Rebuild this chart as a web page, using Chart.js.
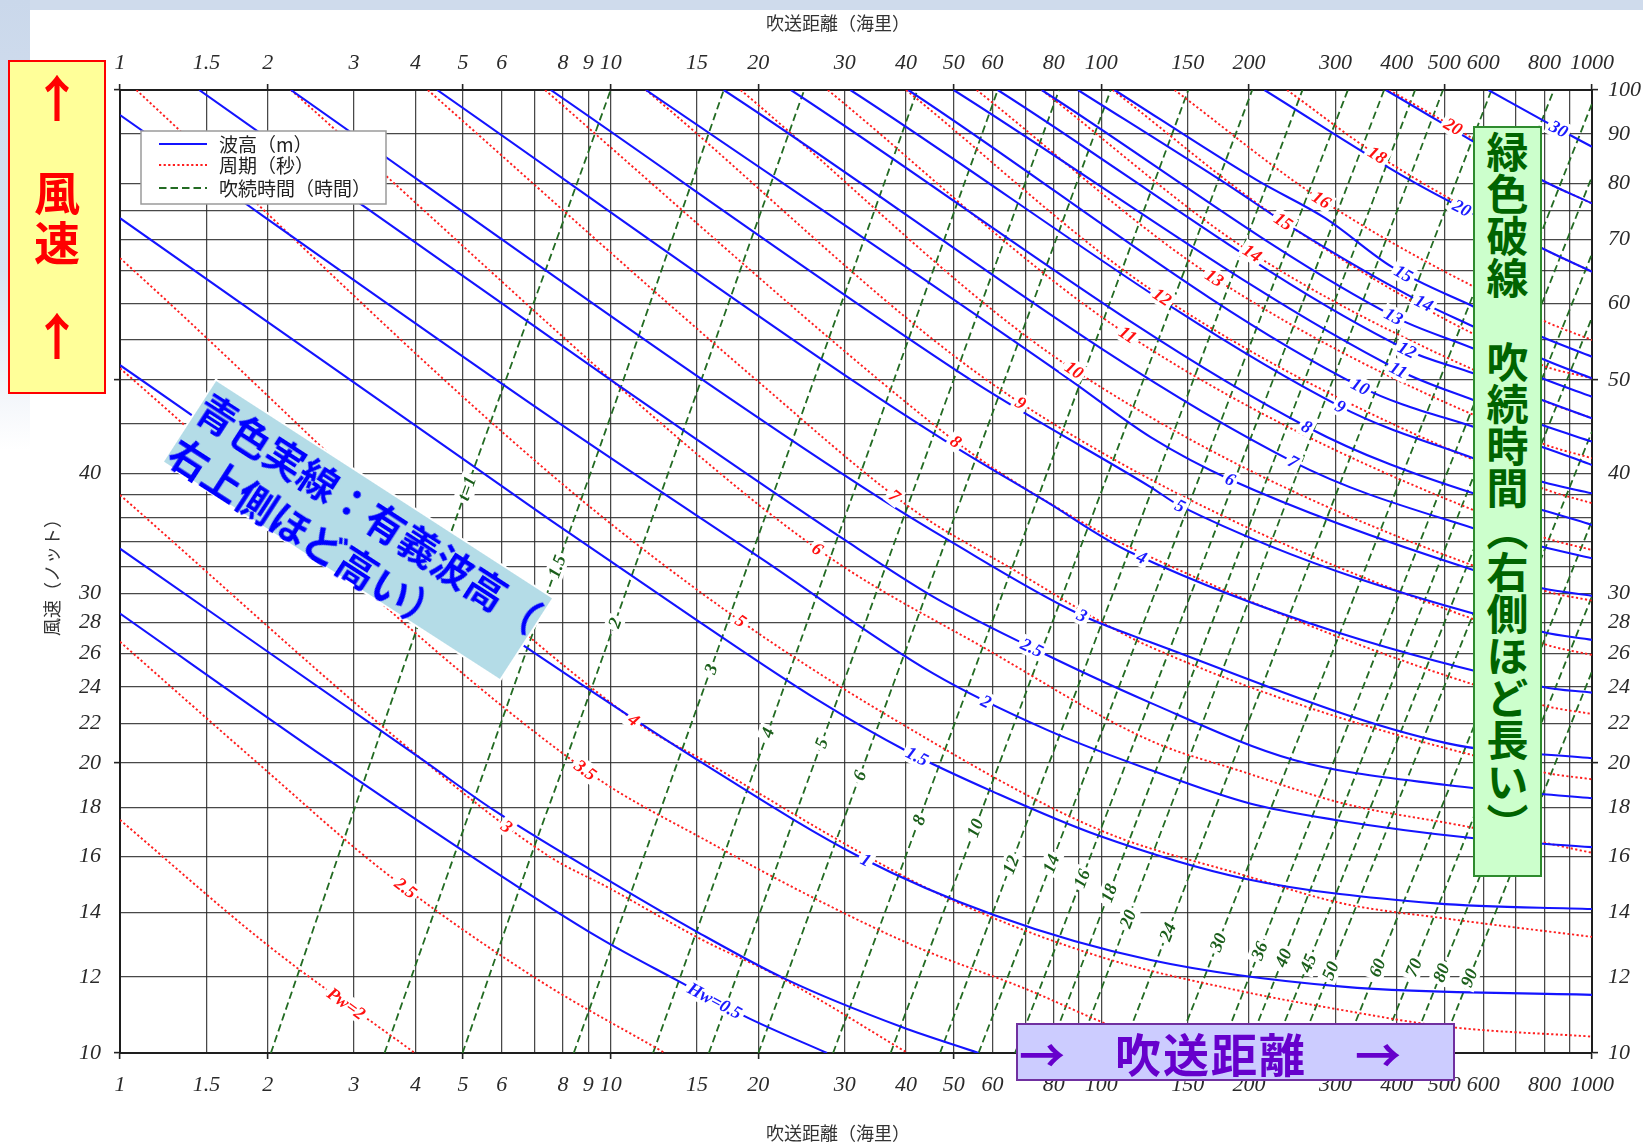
<!DOCTYPE html>
<html lang="ja">
<head>
<meta charset="utf-8">
<title>波浪推算図（有義波高・周期・吹続時間）</title>
<script src="https://cdn.jsdelivr.net/npm/chart.js@4.4.1/dist/chart.umd.min.js"></script>
<style>
  html, body { margin: 0; padding: 0; background: #ffffff; overflow: hidden; }
  #page { position: relative; width: 1643px; height: 1144px; overflow: hidden; background: #ffffff; }
  #bandTop { position: absolute; left: 0; top: 0; width: 1643px; height: 10px; background: #cfdbec; }
  #bandLeft { position: absolute; left: 0; top: 0; width: 30px; height: 450px;
    background: linear-gradient(to bottom, #cad8eb 0%, #d8e2f0 60%, #ffffff 100%); }
  #chart { position: absolute; left: 0; top: 0; }
  .note { position: absolute; box-sizing: border-box; font-family: "Noto Sans CJK JP", sans-serif; font-weight: 700; }
  #windNote { left: 8px; top: 60px; width: 98px; height: 334px; background: #ffff99; border: 2px solid #ff0000; color: #ff0000; }
  #windNote span { position: absolute; left: 0; width: 94px; text-align: center; line-height: 1; }
  #waveNote { left: 156px; top: 480px; width: 404px; height: 100px; background: #b4dce7; border: 2px solid #ffffff;
    transform: rotate(32.9deg); color: #0000ff; font-size: 40px; line-height: 52px; white-space: nowrap; }
  #durNote { left: 1473px; top: 126px; width: 69px; height: 751px; background: #ccffcc; border: 2px solid #2e8b2e; color: #006400; }
  #durNote div { position: absolute; left: 0; top: 3px; width: 65px; writing-mode: vertical-rl; font-size: 42px; line-height: 65px; white-space: nowrap; }
  #fetchNote { left: 1016px; top: 1023px; width: 439px; height: 58px; background: #ccccff; border: 2px solid #7030a0; color: #6600cc;
    font-size: 46px; line-height: 54px; letter-spacing: 2px; padding-left: 1px; white-space: nowrap; }
</style>
</head>
<body>
<div id="page">
  <div id="bandTop"></div>
  <div id="bandLeft"></div>
  <canvas id="chart" width="1643" height="1144" style="width:1643px;height:1144px"></canvas>
  <div class="note" id="windNote">
    <span style="top:8px;font-size:50px">↑</span>
    <span style="top:105px;font-size:46px">風</span>
    <span style="top:155px;font-size:46px">速</span>
    <span style="top:246px;font-size:50px">↑</span>
  </div>
  <div class="note" id="waveNote"><div>青色実線：有義波高（</div><div>右上側ほど高い）</div></div>
  <div class="note" id="durNote"><div>緑色破線　吹続時間（右側ほど長い）</div></div>
  <div class="note" id="fetchNote">→　吹送距離　→</div>
</div>
<script>
// Axis gridlines and tick labels
const X_GRID = [1,1.5,2,3,4,5,6,7,8,9,10,15,20,30,40,50,60,70,80,90,100,150,200,300,400,500,600,700,800,900,1000];
const X_LABELS = [1,1.5,2,3,4,5,6,8,9,10,15,20,30,40,50,60,80,100,150,200,300,400,500,600,800,1000];
const X_MARKS = [1,2,5,10,20,50,100,200,500,1000];
const Y_GRID = [10,12,14,16,18,20,22,24,26,28,30,32,34,36,38,40,45,50,55,60,65,70,75,80,90,100];
const Y_LABELS = [10,12,14,16,18,20,22,24,26,28,30,40,50,60,70,80,90,100];
const Y_MARKS = [10,20,50,100];

const FETCH_TITLE = '吹送距離（海里）';
const WIND_TITLE = '風速（ノット）';

// Significant wave height curves: [fetch (nautical miles), wind speed (knots)]
const hw0_5 = [[1,28.6],[2.66,20.15],[4.9,16.33],[9.5,13.16],[13.6,11.91],[19.1,10.87],[27.6,10]];
const hwB   = [[1,33.4],[4.14,20.15],[5.77,17.88],[9.5,15.3],[15,13.36],[22.9,11.91],[39.2,10.64],[56.2,10]];
const hw1   = [[1,51.8],[7.51,25.4],[15.4,20.0],[32.2,15.98],[60.4,13.91],[126,12.49],[310,11.72],[1000,11.49]];
const hw1_5 = [[1,73.6],[7.51,35.8],[14.9,28.2],[26.4,23.26],[40,20.6],[60.4,18.66],[98,16.84],[195,15.18],[481,14.3],[1000,14.11]];
const hw2   = [[1,94.2],[7.51,45.8],[20.5,32.5],[45.3,24.8],[77.7,21.64],[126,19.67],[200,18.17],[300,17.46],[575,16.71],[1000,16.36]];
const hw2_5 = [[1.45,100],[10,50],[30,34.1],[45.3,29.8],[68.5,26.7],[126,23.1],[247,20.15],[505,18.98],[1000,18.39]];
const hw3   = [[2.23,100],[15.4,50],[35.9,37.5],[48.7,34.1],[89.6,28.6],[126,26.7],[505,20.98],[1000,20.23]];
const hw4   = [[4.43,100],[31,50],[47.8,43.3],[76.4,37.5],[115.5,33.05],[791,24.01],[1000,23.67]];
const hw5   = [[7.55,100],[54.2,50],[69.7,46.2],[126,38.7],[144.7,37.0],[791,27.38],[1000,26.85]];
const hw6   = [[11.8,100],[86.3,50],[126,43.6],[183,39.4],[573,31.74],[791,30.38],[1000,29.83]];
const hw7   = [[17,100],[246,41.1],[573,35.07],[791,33.55],[1000,32.64]];
const hw8   = [[23.3,100],[262,44.7],[573,38.12],[791,36.64],[1000,35.34]];
const hw9   = [[30.8,100],[307,46.9],[573,41.46],[791,39.2],[1000,38.12]];
const hw10  = [[40.4,100],[337,49.2],[573,44.7],[791,42.6],[1000,40.79]];
const hw11  = [[50,100],[403,51.2],[573,47.65],[791,44.88],[1000,43.14]];
const hw12  = [[61.5,100],[420,53.7],[573,50.8],[791,47.65],[1000,45.61]];
const hw13  = [[75.6,100],[394,58.2],[573,53.9],[791,50.19],[1000,48.03]];
const hw14  = [[89.6,100],[175,80.6],[252,71.3],[433,60.8],[573,56.8],[791,52.6],[1000,50.19]];
const hw15  = [[106.4,100],[207.5,80.6],[286,73.6],[391,65.5],[573,59.6],[791,55.4],[1000,52.85]];
const hw20  = [[215,100],[426,80.6],[791,68.5],[1000,64.76]];
const hw25  = [[380,100],[791,80.6],[1000,76.25]];
const hw30  = [[615,100],[803,92.7],[1000,87.3]];

// Wave period curves
const pw2   = [[1,17.46],[2,12.94],[3.99,10]];
const pw2_5 = [[1,26.73],[1.877,20.15],[3.42,15.49],[7.03,11.96],[12.9,10]];
const pw3   = [[1,37.97],[4.14,20.15],[7.51,15.99],[9.84,14.87],[15.4,13.1],[22.1,11.99],[40.3,10]];
const pw3_5 = [[1,51.4],[8.88,19.67],[16,16.52],[26.4,14.42],[42.1,12.88],[70.9,11.63],[98,10.82],[144,10]];
const pw4   = [[1,66.9],[11.14,22.17],[15.4,20.15],[33.5,15.98],[49.5,14.42],[99.4,12.59],[195,11.58],[310,11.08],[505,10.65],[1000,10.4]];
const pw5   = [[1.08,100],[7.51,40],[17.5,28.6],[37.9,22.19],[99.4,17.04],[195,15.3],[310,14.3],[505,13.79],[1000,13.2]];
const pw6   = [[2.23,100],[18.4,38.4],[29.5,32.1],[57.3,26.4],[126,21.1],[195,19.58],[310,18.17],[557,17.18],[1000,16.14]];
const pw7   = [[4.24,100],[19.8,50],[41.4,36.64],[64.8,31.96],[126,26.4],[791,19.58],[1000,19.24]];
const pw8   = [[7.35,100],[35.2,50],[53.2,42.3],[70.9,38.4],[117.4,33.29],[791,22.98],[1000,22.49]];
const pw9   = [[11.8,100],[68.5,47.3],[791,26.63],[1000,25.9]];
const pw10  = [[18.4,100],[88,51.2],[791,30.26],[1000,29.49]];
const pw11  = [[27.7,100],[113.2,55.7],[791,34.37],[1000,33.29]];
const pw12  = [[40,100],[133,60.95],[791,38.6],[1000,37.23]];
const pw13  = [[55.7,100],[170,63.8],[791,42.96],[1000,41.46]];
const pw14  = [[75.6,100],[203,67.7],[791,47.65],[1000,45.61]];
const pw15  = [[105.5,100],[235,73],[791,51.8],[1000,50.19]];
const pw16  = [[141,100],[281,76.9],[791,57.7],[1000,55]];
const pw18  = [[239,100],[365,85.6],[791,68.5],[1000,64.76]];
const pw20  = [[386,100],[521,91.6],[791,80.6],[1000,76.25]];

// Wind duration lines (hours)
const t1   = [[2.03,10],[4.02,27.5],[10,100]];
const t1_5 = [[3.46,10],[4.9,16.52],[6.78,26.4],[9.46,42.3],[17,100]];
const t2   = [[4.99,10],[7.03,16.52],[8.1,20.15],[24.8,100]];
const t3   = [[8.41,10],[42.2,100]];
const t4   = [[12.2,10],[61.5,100]];
const t5   = [[15.85,10],[82,100]];
const t6   = [[20,10],[104.5,100]];
const t8   = [[28.4,10],[150.4,100]];
const t10  = [[37.2,10],[203,100]];
const t12  = [[46.9,10],[257,100]];
const t14  = [[56.2,10],[318,100]];
const t16  = [[66.7,10],[377,100]];
const t18  = [[77.9,10],[436,100]];
const t20  = [[89.2,10],[497,100]];
const t24  = [[109.7,10],[624,100]];
const t30  = [[141,10],[836,100]];
const t36  = [[174,10],[1000,96.8]];
const t40  = [[197,10],[1000,81.3]];
const t45  = [[223,10],[1000,67.6]];
const t50  = [[251,10],[1000,58.05]];
const t60  = [[311,10],[1000,44.2]];
const t70  = [[369,10],[1000,35.7]];
const t80  = [[424,10],[1000,29.8]];
const t90  = [[488,10],[1000,24.9]];

// [curve, inline tag, fetch where the tag sits]
const waveHeightSeries = [
  [hw0_5,'Hw=0.5',16.3],[hwB,'',null],[hw1,'1',33.1],[hw1_5,'1.5',42.1],[hw2,'2',58.2],[hw2_5,'2.5',72.2],
  [hw3,'3',91.3],[hw4,'4',120.8],[hw5,'5',144.7],[hw6,'6',183],[hw7,'7',246],[hw8,'8',262],[hw9,'9',307],
  [hw10,'10',337],[hw11,'11',403],[hw12,'12',420],[hw13,'13',394],[hw14,'14',454],[hw15,'15',413],
  [hw20,'20',543],[hw25,'',null],[hw30,'30',855]
];
const periodSeries = [
  [pw2,'Pw=2',2.89],[pw2_5,'2.5',3.82],[pw3,'3',6.14],[pw3_5,'3.5',8.88],[pw4,'4',11.14],[pw5,'5',18.4],
  [pw6,'6',26.4],[pw7,'7',37.9],[pw8,'8',50.5],[pw9,'9',68.5],[pw10,'10',88],[pw11,'11',113.2],[pw12,'12',133],
  [pw13,'13',170],[pw14,'14',203],[pw15,'15',235],[pw16,'16',281],[pw18,'18',365],[pw20,'20',521]
];
const durationSeries = [
  [t1,'t=1',5.09],[t1_5,'1.5',7.77],[t2,'2',10.2],[t3,'3',16],[t4,'4',20.9],[t5,'5',26.9],[t6,'6',32.2],
  [t8,'8',42.5],[t10,'10',55.3],[t12,'12',65.4],[t14,'14',79],[t16,'16',91.3],[t18,'18',103.7],[t20,'20',113.3],
  [t24,'24',136.5],[t30,'30',173],[t36,'36',210],[t40,'40',235],[t45,'45',264],[t50,'50',293],[t60,'60',365],
  [t70,'70',433],[t80,'80',493],[t90,'90',562]
];

// Line styles for the three families
const STYLE = {
  wave:   { name: '波高（m）',         line: '#1414ff', tag: '#1a1aff', width: 2.1, dash: [] },
  period: { name: '周期（秒）',         line: '#ff1e1e', tag: '#ff1010', width: 1.9, dash: [2.2, 2.4] },
  dur:    { name: '吹続時間（時間）',   line: '#236b23', tag: '#1b5e1b', width: 1.8, dash: [7.5, 4] }
};

function toDatasets(series, style) {
  return series.map(([pts, tag, at]) => ({
    data: pts.map(([x, y]) => ({ x, y })),
    borderColor: style.line,
    borderWidth: style.width,
    borderDash: style.dash,
    pointRadius: 0,
    fill: false,
    cubicInterpolationMode: 'monotone',
    tag, tagAt: at, tagColor: style.tag
  }));
}

const datasets = [
  ...toDatasets(waveHeightSeries, STYLE.wave),
  ...toDatasets(periodSeries, STYLE.period),
  ...toDatasets(durationSeries, STYLE.dur)
];

function makeScale(position, grid, labels, marks, size, pad, onArea) {
  const horizontal = position === 'top' || position === 'bottom';
  return {
    type: 'logarithmic',
    axis: horizontal ? 'x' : 'y',
    position,
    min: horizontal ? 1 : 10,
    max: horizontal ? 1000 : 100,
    afterBuildTicks: s => { s.ticks = grid.map(v => ({ value: v })); },
    afterFit: s => { if (horizontal) s.height = size; else s.width = size; },
    ticks: {
      autoSkip: false, maxRotation: 0, minRotation: 0, padding: pad,
      color: '#2a2a2a',
      font: { family: '"Liberation Serif", "Times New Roman", serif', style: 'italic', size: 22 },
      callback: v => labels.includes(v) ? String(v) : ''
    },
    grid: {
      display: true,
      drawOnChartArea: onArea,
      color: 'rgba(40,40,40,0.85)',
      lineWidth: 1.25,
      drawTicks: true,
      tickLength: 6,
      tickWidth: 1.6,
      tickColor: c => (c.tick && marks.includes(c.tick.value)) ? '#222' : 'rgba(0,0,0,0)'
    },
    border: { display: true, color: '#1e1e1e', width: 2 }
  };
}

function bez(p0, p1, p2, p3, t) {
  const u = 1 - t;
  return u * u * u * p0 + 3 * u * u * t * p1 + 3 * u * t * t * p2 + t * t * t * p3;
}

// Places a tag on the drawn curve at a given fetch, aligned with the curve
function placeOnCurve(chart, index, at) {
  const pts = chart.getDatasetMeta(index).data;
  const px = chart.scales.x.getPixelForValue(at);
  for (let k = 0; k < pts.length - 1; k++) {
    const a = pts[k], b = pts[k + 1];
    if (px < a.x - 0.01 || px > b.x + 0.01) continue;
    const ax = a.cp2x ?? a.x, ay = a.cp2y ?? a.y, bx = b.cp1x ?? b.x, by = b.cp1y ?? b.y;
    let lo = 0, hi = 1;
    for (let n = 0; n < 40; n++) {
      const m = (lo + hi) / 2;
      if (bez(a.x, ax, bx, b.x, m) < px) lo = m; else hi = m;
    }
    const t = (lo + hi) / 2;
    const t1 = Math.max(0, t - 0.02), t2 = Math.min(1, t + 0.02);
    const dx = bez(a.x, ax, bx, b.x, t2) - bez(a.x, ax, bx, b.x, t1);
    const dy = bez(a.y, ay, by, b.y, t2) - bez(a.y, ay, by, b.y, t1);
    return { x: px, y: bez(a.y, ay, by, b.y, t), angle: Math.atan2(dy, dx) };
  }
  return null;
}

const curveTags = {
  id: 'curveTags',
  afterDatasetsDraw(chart) {
    const ctx = chart.ctx;
    ctx.save();
    ctx.font = 'italic bold 18px "Liberation Serif", serif';
    ctx.textAlign = 'center';
    ctx.textBaseline = 'middle';
    chart.data.datasets.forEach((ds, i) => {
      if (!ds.tag) return;
      const p = placeOnCurve(chart, i, ds.tagAt);
      if (!p) return;
      ctx.save();
      ctx.translate(p.x, p.y);
      ctx.rotate(p.angle);
      const w = ctx.measureText(ds.tag).width;
      ctx.fillStyle = '#ffffff';
      ctx.fillRect(-w / 2 - 3, -9.5, w + 6, 19);
      ctx.fillStyle = ds.tagColor;
      ctx.fillText(ds.tag, 0, 1);
      ctx.restore();
    });
    ctx.restore();
  }
};

const familyLegend = {
  id: 'familyLegend',
  afterDraw(chart) {
    const ctx = chart.ctx;
    const a = chart.chartArea;
    const x0 = a.left + 21, y0 = a.top + 41, w = 245, h = 73;
    ctx.save();
    ctx.fillStyle = '#ffffff';
    ctx.fillRect(x0, y0, w, h);
    ctx.strokeStyle = '#9a9a9a';
    ctx.lineWidth = 1.5;
    ctx.strokeRect(x0, y0, w, h);
    const rows = [STYLE.wave, STYLE.period, STYLE.dur];
    const ys = [13, 34, 57];
    ctx.font = '19px "Noto Sans CJK JP", sans-serif';
    ctx.textBaseline = 'middle';
    rows.forEach((s, k) => {
      const yy = y0 + ys[k];
      ctx.strokeStyle = s.line;
      ctx.lineWidth = s.width;
      ctx.setLineDash(s.dash);
      ctx.beginPath();
      ctx.moveTo(x0 + 18, yy);
      ctx.lineTo(x0 + 66, yy);
      ctx.stroke();
      ctx.setLineDash([]);
      ctx.fillStyle = '#222';
      ctx.fillText(s.name, x0 + 78, yy + 1);
    });
    ctx.restore();
  }
};

const axisTitles = {
  id: 'axisTitles',
  afterDraw(chart) {
    const ctx = chart.ctx;
    const a = chart.chartArea;
    const cx = (a.left + a.right) / 2 - 18;
    ctx.save();
    ctx.font = '18px "Noto Sans CJK JP", sans-serif';
    ctx.fillStyle = '#333';
    ctx.textAlign = 'center';
    ctx.textBaseline = 'middle';
    ctx.fillText(FETCH_TITLE, cx, 23);
    ctx.fillText(FETCH_TITLE, cx, 1133);
    ctx.translate(52, 573);
    ctx.rotate(-Math.PI / 2);
    ctx.fillText(WIND_TITLE, 0, 0);
    ctx.restore();
  }
};

new Chart(document.getElementById('chart'), {
  type: 'line',
  data: { datasets },
  options: {
    responsive: false,
    animation: false,
    devicePixelRatio: 1,
    events: [],
    layout: { padding: 0 },
    plugins: { legend: { display: false }, tooltip: { enabled: false }, title: { display: false } },
    scales: {
      x:  makeScale('bottom', X_GRID, X_LABELS, X_MARKS, 91, 13, true),
      x2: makeScale('top',    X_GRID, X_LABELS, X_MARKS, 90, 8, false),
      y:  makeScale('left',   Y_GRID, Y_LABELS, Y_MARKS, 120, 13, true),
      y2: makeScale('right',  Y_GRID, Y_LABELS, Y_MARKS, 51, 10, false)
    }
  },
  plugins: [curveTags, familyLegend, axisTitles]
});
</script>
</body>
</html>
